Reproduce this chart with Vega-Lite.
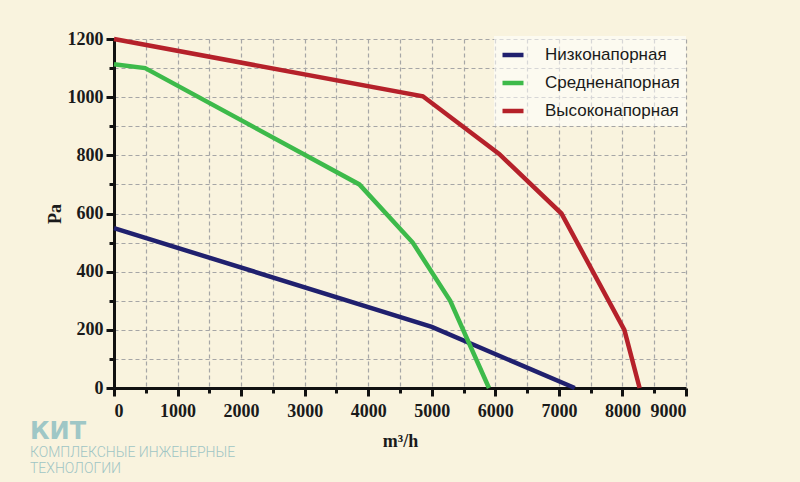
{
  "$schema": "https://vega.github.io/schema/vega-lite/v6.json",
  "autosize": {"type": "none"},
  "width": 572,
  "height": 349,
  "padding": {"left": 114, "top": 39, "right": 114, "bottom": 94},
  "background": "#f9f3de",
  "title": {
    "text": "КИТ",
    "subtitle": ["КОМПЛЕКСНЫЕ ИНЖЕНЕРНЫЕ", "ТЕХНОЛОГИИ"],
    "orient": "bottom",
    "anchor": "start",
    "frame": "group",
    "dx": -84,
    "dy": -30,
    "offset": 0,
    "font": "DejaVu Sans",
    "fontSize": 24,
    "fontWeight": "bold",
    "color": "#9fc7c6",
    "subtitleFont": "Roboto",
    "subtitleFontSize": 14,
    "subtitleFontWeight": 300,
    "subtitleColor": "#9fc5c4",
    "subtitlePadding": 2,
    "subtitleLineHeight": 16
  },
  "data": {
    "values": [
      {"type": "Низконапорная", "flow": 0, "pa": 550},
      {"type": "Низконапорная", "flow": 5000, "pa": 210},
      {"type": "Низконапорная", "flow": 7250, "pa": 0},
      {"type": "Средненапорная", "flow": 0, "pa": 1113},
      {"type": "Средненапорная", "flow": 490, "pa": 1100},
      {"type": "Средненапорная", "flow": 3860, "pa": 700},
      {"type": "Средненапорная", "flow": 4700, "pa": 500},
      {"type": "Средненапорная", "flow": 5290, "pa": 300},
      {"type": "Средненапорная", "flow": 5900, "pa": 0},
      {"type": "Высоконапорная", "flow": 0, "pa": 1200},
      {"type": "Высоконапорная", "flow": 4860, "pa": 1003},
      {"type": "Высоконапорная", "flow": 6060, "pa": 805},
      {"type": "Высоконапорная", "flow": 7040, "pa": 600},
      {"type": "Высоконапорная", "flow": 8030, "pa": 200},
      {"type": "Высоконапорная", "flow": 8270, "pa": 0}
    ]
  },
  "mark": {"type": "line", "strokeWidth": 4.5, "strokeJoin": "miter"},
  "encoding": {
    "x": {
      "field": "flow",
      "type": "quantitative",
      "scale": {"domain": [0, 9000], "nice": false, "zero": true},
      "axis": {
        "title": "m³/h",
        "values": [0, 500, 1000, 1500, 2000, 2500, 3000, 3500, 4000, 4500, 5000, 5500, 6000, 6500, 7000, 7500, 8000, 8500, 9000],
        "labelExpr": "datum.value % 1000 === 0 ? datum.label : ''",
        "format": "d",
        "tickSize": {"condition": {"test": "datum.value % 1000 === 0", "value": 8}, "value": 5},
        "labelPadding": 6,
        "titlePadding": 12
      }
    },
    "y": {
      "field": "pa",
      "type": "quantitative",
      "scale": {"domain": [0, 1200], "nice": false},
      "axis": {
        "title": "Pa",
        "values": [0, 100, 200, 300, 400, 500, 600, 700, 800, 900, 1000, 1100, 1200],
        "labelExpr": "datum.value % 200 === 0 ? datum.label : ''",
        "format": "d",
        "tickSize": {"condition": {"test": "datum.value % 200 === 0", "value": 8}, "value": 5},
        "labelPadding": 3,
        "titlePadding": 3
      }
    },
    "color": {
      "field": "type",
      "type": "nominal",
      "scale": {
        "domain": ["Низконапорная", "Средненапорная", "Высоконапорная"],
        "range": ["#20206e", "#3dba4a", "#b5212a"]
      },
      "legend": {
        "title": null,
        "orient": "none",
        "legendX": 380,
        "legendY": -3,
        "symbolType": "stroke",
        "symbolStrokeWidth": 4.5,
        "symbolSize": 441,
        "labelFont": "Liberation Sans",
        "labelFontSize": 17,
        "labelColor": "#1a1a1a",
        "rowPadding": 6,
        "labelOffset": 19,
        "padding": 6,
        "fillColor": "rgba(255,255,255,0.55)"
      }
    },
    "order": {"field": "flow", "type": "quantitative"}
  },
  "config": {
    "view": {"stroke": null},
    "axis": {
      "domainColor": "#111111",
      "domainWidth": 3,
      "tickColor": "#111111",
      "tickWidth": 3,
      "gridColor": "#a6a6a6",
      "gridDash": [4, 3],
      "gridWidth": 1.2,
      "labelFont": "Liberation Serif",
      "labelFontSize": 18,
      "labelFontWeight": "bold",
      "labelColor": "#1a1a1a",
      "titleFont": "Liberation Serif",
      "titleFontSize": 18,
      "titleFontWeight": "bold",
      "titleColor": "#1a1a1a"
    }
  }
}
